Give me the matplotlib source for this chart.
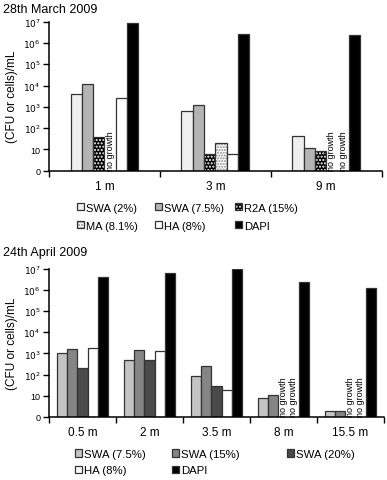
import numpy as np
import matplotlib
matplotlib.use('Agg')
from matplotlib import pyplot as plt
from matplotlib.patches import Patch

plt.rcParams['font.family'] = ['Liberation Sans', 'DejaVu Sans']
plt.rcParams['hatch.linewidth'] = 1.0

# 28th March 2009
mar_sites = ['1 m', '3 m', '9 m']
mar_series = ['SWA (2%)', 'SWA (7.5%)', 'R2A (15%)', 'MA (8.1%)', 'HA (8%)', 'DAPI']
mar_swa2 = [4000, 630, 42]
mar_swa75 = [12000, 1250, 12]
mar_r2a = [40, 6, 8]
mar_ma = [None, 21, None]
mar_ha = [2600, 6, None]
mar_dapi = [8.5e6, 2.7e6, 2.4e6]

# 24th April 2009
apr_sites = ['0.5 m', '2 m', '3.5 m', '8 m', '15.5 m']
apr_series = ['SWA (7.5%)', 'SWA (15%)', 'SWA (20%)', 'HA (8%)', 'DAPI']
apr_swa75 = [1070, 490, 82, 8, 1.9]
apr_swa15 = [1660, 1450, 245, 11, 1.9]
apr_swa20 = [200, 490, 29, None, None]
apr_ha = [1800, 1250, 19, None, None]
apr_dapi = [4.2e6, 6.5e6, 1.0e7, 2.4e6, 1.2e6]

ytick_labels = ['0', '10', '$10^2$', '$10^3$', '$10^4$', '$10^5$', '$10^6$', '$10^7$']
edge = '#333333'

# style per series: (face, hatch, hatch colour)
mar_styles = [('#efefef', None, None), ('#b4b4b4', None, None), ('black', '.....', 'white'),
              ('white', '......', '#888888'), ('white', None, None), ('black', None, None)]
apr_styles = [('#c4c4c4', None, None), ('#858585', None, None), ('#4a4a4a', None, None),
              ('white', None, None), ('black', None, None)]


def draw_panel(ax, sites, data, styles, width):
  n = len(data)
  x = np.arange(len(sites)) + 0.5
  for i, (vals, (fc, hatch, hc)) in enumerate(zip(data, styles)):
    pos = x + (i - (n - 1) / 2) * width
    for p, v in zip(pos, vals):
      if v is None:
        ax.text(p, 0.05, 'no growth', rotation=90, ha='center', va='bottom', fontsize=6.5)
        continue
      h = np.log10(v)
      if hatch:
        ax.bar(p, h, width, color=fc, edgecolor=hc, hatch=hatch, lw=0)
        ax.bar(p, h, width, fill=False, edgecolor=edge, lw=0.9)
      else:
        ax.bar(p, h, width, color=fc, edgecolor=edge, lw=0.9)
  ax.set_xlim(0, len(sites))
  ax.set_ylim(0, 7)
  ax.set_yticks(range(8))
  ax.set_yticklabels(ytick_labels, fontsize=6.5)
  ax.set_xticks(x)
  ax.set_xticklabels(sites, fontsize=8.5)
  ax.set_xticks(np.arange(len(sites) + 1), minor=True)
  ax.tick_params(axis='x', which='major', length=0, pad=7)
  ax.tick_params(axis='x', which='minor', length=4, width=1)
  ax.tick_params(axis='y', length=4, width=1, pad=2)
  for s in ['top', 'right']:
    ax.spines[s].set_visible(False)
  for s in ['left', 'bottom']:
    ax.spines[s].set_linewidth(1.1)
  ax.set_ylabel('(CFU or cells)/mL', fontsize=8.5, labelpad=4)


def make_handle(fc, hatch, hc):
  if hatch:
    return (Patch(facecolor=fc, edgecolor=hc, hatch=hatch, lw=0),
            Patch(fill=False, edgecolor=edge, lw=0.9))
  return Patch(facecolor=fc, edgecolor=edge, lw=0.9)


def draw_legend(fig, labels, styles, xs, y, fs, spacing):
  handles = [make_handle(*s) for s in styles]
  for j, xpos in enumerate(xs):
    fig.legend(handles[j::3], labels[j::3], loc='upper left', bbox_to_anchor=(xpos, y),
               frameon=False, fontsize=fs, handlelength=0.6, handleheight=0.6,
               handletextpad=0.2, labelspacing=spacing, borderaxespad=0, borderpad=0)


W, H = 387, 481
fig = plt.figure(figsize=(W / 100, H / 100), dpi=100)

ax1 = fig.add_axes([49 / W, 1 - 171.7 / H, (381.7 - 49) / W, 149 / H])
draw_panel(ax1, mar_sites, [mar_swa2, mar_swa75, mar_r2a, mar_ma, mar_ha, mar_dapi], mar_styles, 0.102)
fig.text(3 / W, 1 - 10 / H, '28th March 2009', fontsize=9, va='center', ha='left')
draw_legend(fig, mar_series, mar_styles, [77 / W, 155 / W, 235 / W], 1 - 203.5 / H, 8, 0.75)

ax2 = fig.add_axes([49 / W, 1 - 417.7 / H, (384 - 49) / W, 147.7 / H])
draw_panel(ax2, apr_sites, [apr_swa75, apr_swa15, apr_swa20, apr_ha, apr_dapi], apr_styles, 0.155)
fig.text(3 / W, 1 - 253 / H, '24th April 2009', fontsize=9, va='center', ha='left')
draw_legend(fig, apr_series, apr_styles, [75 / W, 172 / W, 287 / W], 1 - 450 / H, 8.2, 0.55)

fig.savefig('out.png', dpi=100)
